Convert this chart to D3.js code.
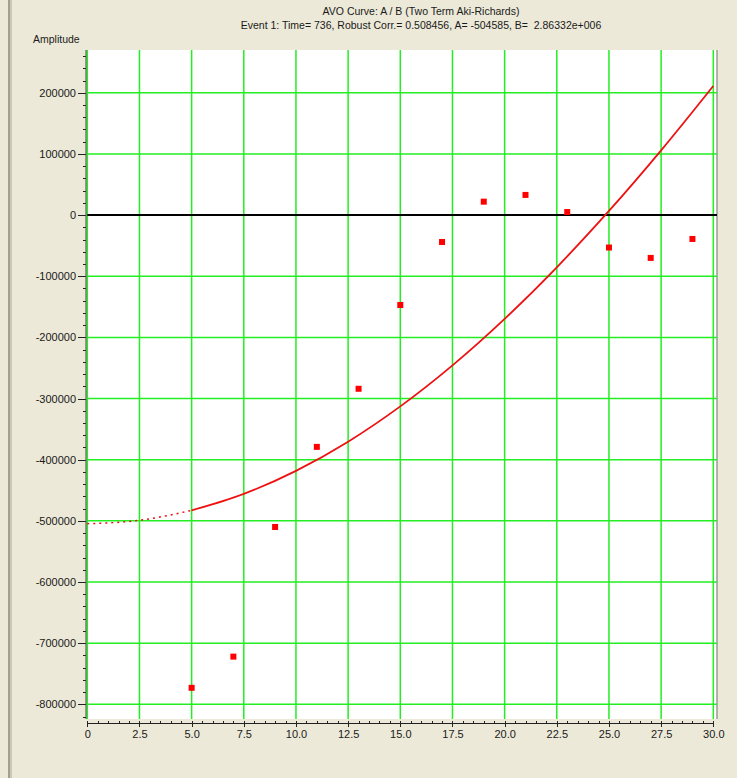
<!DOCTYPE html>
<html lang="en">
  <head>
    <meta charset="utf-8">
    <title>AVO Curve</title>
    <style type="text/css">
      body{
        margin: 0;
        background-color: #ece9d8;
        font-family: Tahoma, "Liberation Sans", Arial, sans-serif;
      }
      svg text{
        fill: #1a1a1a;
        font-size: 11px;
      }
      .axis path, .axis line{
        stroke: #222;
        shape-rendering: crispEdges;
      }
    </style>
  </head>
  <body>
    <div id='svg_container'></div>

    <script src="https://d3js.org/d3.v7.min.js"></script>
    <script type="text/javascript">

      // measured points (angle, amplitude)
      const angles = [5, 7, 9, 11, 13, 15, 17, 19, 21, 23, 25, 27, 29];
      const amplitudes = [-773000, -722000, -510000, -379000, -284000, -147000, -44000, 22000, 33000, 5000, -53000, -70000, -39000];

      // fitted curve
      const fitAngles = [0, 2.5, 5, 7.5, 10, 12.5, 15, 17.5, 20, 22.5, 25, 27.5, 30];
      const fitAmplitudes = [-504600, -499100, -482800, -455800, -418200, -370500, -312800, -245700, -169600, -85300, 6800, 105900, 211200];

      const xTicks = [0, 2.5, 5, 7.5, 10, 12.5, 15, 17.5, 20, 22.5, 25, 27.5, 30];
      const xTickLabels = ['0', '2.5', '5.0', '7.5', '10.0', '12.5', '15.0', '17.5', '20.0', '22.5', '25.0', '27.5', '30.0'];
      const yTicks = [200000, 100000, 0, -100000, -200000, -300000, -400000, -500000, -600000, -700000, -800000];

      const titleText = 'AVO Curve: A / B (Two Term Aki-Richards)';
      const subTitleText = 'Event 1: Time= 736, Robust Corr.= 0.508456, A= -504585, B=  2.86332e+006';

      const w = 737;
      const h = 778;
      const plotLeft = 87.3, plotRight = 713.3, boxRight = 717;
      const plotTop = 50, plotBottom = 719;

      const scaleX = d3.scaleLinear().domain([0, 30]).range([plotLeft, plotRight]);
      const scaleY = d3.scaleLinear().domain([-824000, 270000]).range([plotBottom, plotTop]);

      const svg = d3.select('#svg_container').append('svg').attr('width', w).attr('height', h)
          .style('display', 'block');

      // window frame on the left
      svg.append('rect').attr('x', 8).attr('y', 0).attr('width', 2).attr('height', h).attr('fill', '#a19f92');
      svg.append('rect').attr('x', 10).attr('y', 0).attr('width', 2).attr('height', h).attr('fill', '#cbc8b8');

      // plot box
      svg.append('rect').attr('x', plotLeft).attr('y', plotTop).attr('width', boxRight - plotLeft).attr('height', plotBottom - plotTop)
          .attr('fill', 'white');
      svg.append('line').attr('x1', boxRight).attr('x2', boxRight).attr('y1', plotTop).attr('y2', plotBottom)
          .attr('stroke', '#9a9a9a').attr('stroke-width', 1.5);

      // grid
      svg.append('g').selectAll('line').data(xTicks).enter().append('line')
          .attr('x1', d => scaleX(d)).attr('x2', d => scaleX(d)).attr('y1', plotTop).attr('y2', plotBottom)
          .attr('stroke', '#22ee22').attr('stroke-width', 1.5);
      svg.append('g').selectAll('line').data(yTicks.filter(d => d != 0)).enter().append('line')
          .attr('x1', plotLeft).attr('x2', boxRight).attr('y1', d => scaleY(d)).attr('y2', d => scaleY(d))
          .attr('stroke', '#22ee22').attr('stroke-width', 1.5);
      svg.append('line').attr('x1', plotLeft).attr('x2', boxRight).attr('y1', scaleY(0)).attr('y2', scaleY(0))
          .attr('stroke', 'black').attr('stroke-width', 2);

      // y axis
      const yMinor = d3.range(-820000, 270001, 20000);
      svg.append('g').attr('class', 'axis').attr('transform', 'translate(86,0)')
          .call(d3.axisLeft(scaleY).tickValues(yMinor).tickSize(3).tickFormat(''))
          .call(g => g.select('.domain').remove());
      svg.append('g').attr('class', 'axis').attr('transform', 'translate(86,0)')
          .call(d3.axisLeft(scaleY).tickValues(yTicks).tickSize(8).tickPadding(2).tickFormat(d => String(d)))
          .call(g => g.select('.domain').remove())
          .call(g => g.selectAll('text').style('font-family', 'inherit'));
      svg.append('line').attr('x1', 86).attr('x2', 86).attr('y1', plotTop).attr('y2', plotBottom)
          .attr('stroke', '#444').attr('stroke-width', 1);

      // x axis
      const xAxisY = 723;
      const xMinor = d3.range(0, 30.01, 0.5);
      svg.append('g').attr('class', 'axis').attr('transform', 'translate(0,' + xAxisY + ')')
          .call(d3.axisTop(scaleX).tickValues(xMinor).tickSize(2.5).tickFormat(''))
          .call(g => g.select('.domain').remove());
      svg.append('g').attr('class', 'axis').attr('transform', 'translate(0,' + xAxisY + ')')
          .call(d3.axisBottom(scaleX).tickValues(xTicks).tickSize(4).tickPadding(3).tickSizeOuter(0)
            .tickFormat((d, i) => xTickLabels[i]))
          .call(g => g.selectAll('text').style('font-family', 'inherit'));

      // fitted curve: dotted before the first sample, solid after
      const fit = fitAngles.map((a, i) => [a, fitAmplitudes[i]]);
      const line = d3.line().x(d => scaleX(d[0])).y(d => scaleY(d[1])).curve(d3.curveMonotoneX);
      svg.append('path').datum(fit.filter(d => d[0] <= 5)).attr('d', line)
          .attr('fill', 'none').attr('stroke', '#ee1111').attr('stroke-width', 1.5).attr('stroke-dasharray', '2,4');
      svg.append('path').datum(fit.filter(d => d[0] >= 5)).attr('d', line)
          .attr('fill', 'none').attr('stroke', '#ee1111').attr('stroke-width', 1.8);

      // sample points
      svg.append('g').selectAll('rect').data(angles).enter().append('rect')
          .attr('x', d => scaleX(d) - 3).attr('y', (d, i) => scaleY(amplitudes[i]) - 3)
          .attr('width', 6).attr('height', 6).attr('fill', '#ff0000');

      // titles
      svg.append('text').text(titleText).attr('x', 421).attr('y', 15).attr('text-anchor', 'middle')
          .style('font-size', '10.5px');
      svg.append('text').text(subTitleText).attr('x', 421).attr('y', 29).attr('text-anchor', 'middle')
          .style('font-size', '10.5px').style('white-space', 'pre');
      svg.append('text').text('Amplitude').attr('x', 33).attr('y', 43).style('font-size', '10.5px');

    </script>
  </body>
</html>
